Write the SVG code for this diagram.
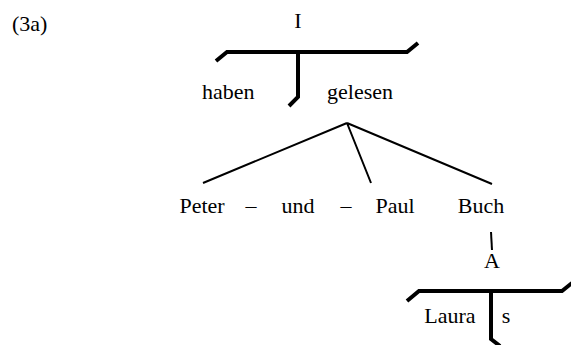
<svg xmlns="http://www.w3.org/2000/svg" width="571" height="345" viewBox="0 0 571 345">
<style>
text{font-family:'Liberation Serif','Times New Roman','DejaVu Serif',serif;font-size:22px;fill:#000}
.m{text-anchor:middle}
.thick{fill:none;stroke:#000;stroke-width:4;stroke-linejoin:miter}
.thin{fill:none;stroke:#000;stroke-width:2}
</style>
<rect width="571" height="345" fill="#fff"/>
<text x="12" y="31" font-family="Liberation Serif, serif">(3a)</text>
<g id="connectors">
<path class="thick" d="M216,61 L227,52 L407,52 L418,43"/>
<path class="thick" d="M298,52 L298,97 L289,106"/>
<path class="thin" d="M347,123 L203,183 M347,123 L371,183 M347,123 L492,184"/>
<path class="thin" d="M491,232 L492,250"/>
<path class="thick" d="M407,301 L419,291 L562,291 L572,283"/>
<path class="thick" d="M491,291 L491,339 L500,346"/>
</g>
<g id="node-I"><text class="m" x="298" y="28">I</text></g>
<g id="node-haben"><text x="202" y="99">haben</text></g>
<g id="node-gelesen"><text x="327" y="99">gelesen</text></g>
<g id="node-Peter"><text class="m" x="202" y="213">Peter</text></g>
<g id="dash1"><text class="m" x="251" y="213">–</text></g>
<g id="node-und"><text class="m" x="298" y="213">und</text></g>
<g id="dash2"><text class="m" x="346" y="213">–</text></g>
<g id="node-Paul"><text class="m" x="395" y="213">Paul</text></g>
<g id="node-Buch"><text class="m" x="481" y="213">Buch</text></g>
<g id="node-A"><text class="m" x="492" y="268">A</text></g>
<g id="node-Laura"><text class="m" x="450" y="323">Laura</text></g>
<g id="node-s"><text class="m" x="506" y="323">s</text></g>
</svg>
